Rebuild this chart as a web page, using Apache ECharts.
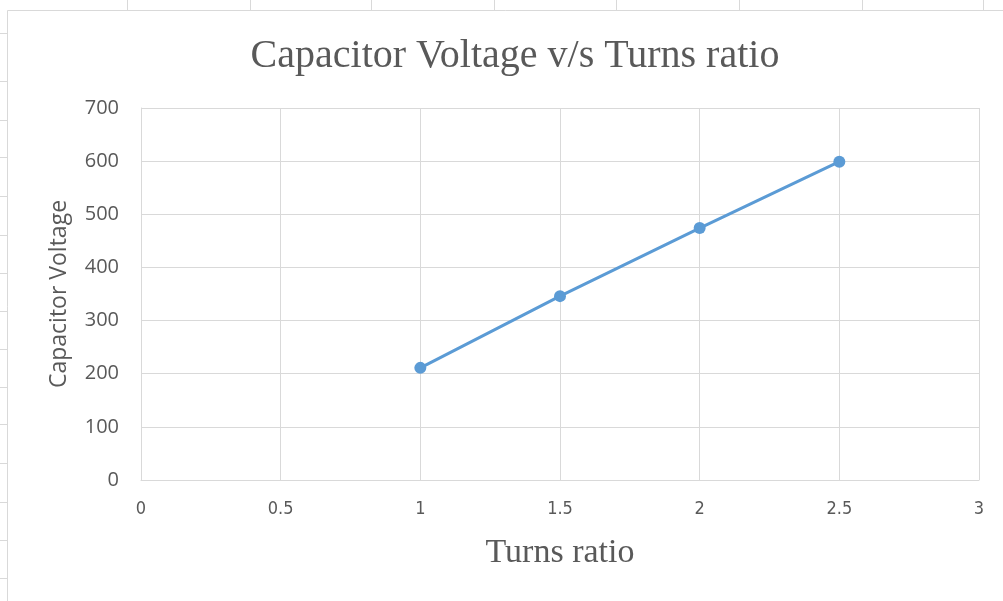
<!DOCTYPE html>
<html>
<head>
<meta charset="utf-8">
<script src="https://cdn.jsdelivr.net/npm/echarts@6/dist/echarts.min.js"></script>
<style>
html,body{margin:0;padding:0;background:#fff;}
#chart{width:1003px;height:601px;}
</style>
</head>
<body>
<div id="chart"></div>
<script>
const turnsRatio = [1, 1.5, 2, 2.5];
const capacitorVoltage = [211, 346, 474, 599];
const xTicks = [0, 0.5, 1, 1.5, 2, 2.5, 3];
const yTicks = [0, 100, 200, 300, 400, 500, 600, 700];

const deco = [];
deco.push({ type: 'rect', shape: { x: 7.5, y: 10.5, width: 1000, height: 600 },
  style: { fill: 'none', stroke: '#d9d9d9', lineWidth: 1 }, silent: true });
[127, 250, 371, 494, 616, 739, 862, 983].forEach(function (x) {
  deco.push({ type: 'line', shape: { x1: x + 0.5, y1: 0, x2: x + 0.5, y2: 10 },
    style: { stroke: '#d9d9d9', lineWidth: 1 }, silent: true });
});
[33, 81, 120, 157, 196, 235, 273, 311, 349, 387, 424, 463, 502, 540, 578].forEach(function (y) {
  deco.push({ type: 'line', shape: { x1: 0, y1: y + 0.5, x2: 7, y2: y + 0.5 },
    style: { stroke: '#d9d9d9', lineWidth: 1 }, silent: true });
});

const chart = echarts.init(document.getElementById('chart'));
chart.setOption({
  animation: false,
  backgroundColor: '#ffffff',
  title: {
    text: 'Capacitor Voltage v/s Turns ratio',
    left: 510, top: 31, textAlign: 'center',
    textStyle: { fontFamily: 'Liberation Serif', fontSize: 40, fontWeight: 'normal', color: '#595959' }
  },
  graphic: deco,
  grid: { left: 141, right: 24, top: 108, bottom: 121 },
  xAxis: {
    type: 'value', min: xTicks[0], max: xTicks[xTicks.length - 1], interval: 0.5,
    name: 'Turns ratio', nameLocation: 'middle', nameGap: 56,
    nameTextStyle: { fontFamily: 'Liberation Serif', fontSize: 34, color: '#595959' },
    axisLine: { show: true, lineStyle: { color: '#d9d9d9', width: 1 } },
    axisTick: { show: false },
    axisLabel: { margin: 20, fontFamily: 'DejaVu Sans Condensed, Open Sans, sans-serif', fontSize: 18, color: '#595959' },
    splitLine: { show: true, lineStyle: { color: '#d9d9d9', width: 1 } }
  },
  yAxis: {
    type: 'value', min: yTicks[0], max: yTicks[yTicks.length - 1], interval: 100,
    name: 'Capacitor Voltage', nameLocation: 'middle', nameGap: 70, nameRotate: 90,
    nameTextStyle: { fontFamily: 'Open Sans', fontSize: 23, color: '#595959' },
    axisLine: { show: true, lineStyle: { color: '#d9d9d9', width: 1 } },
    axisTick: { show: false },
    axisLabel: { margin: 22, fontFamily: 'Open Sans', fontSize: 20, color: '#595959' },
    splitLine: { show: true, lineStyle: { color: '#d9d9d9', width: 1 } }
  },
  series: [{
    type: 'line',
    data: turnsRatio.map((x, i) => [x, capacitorVoltage[i]]),
    lineStyle: { color: '#5B9BD5', width: 3 },
    itemStyle: { color: '#5B9BD5' },
    symbol: 'circle', symbolSize: 12
  }]
});
</script>
</body>
</html>
